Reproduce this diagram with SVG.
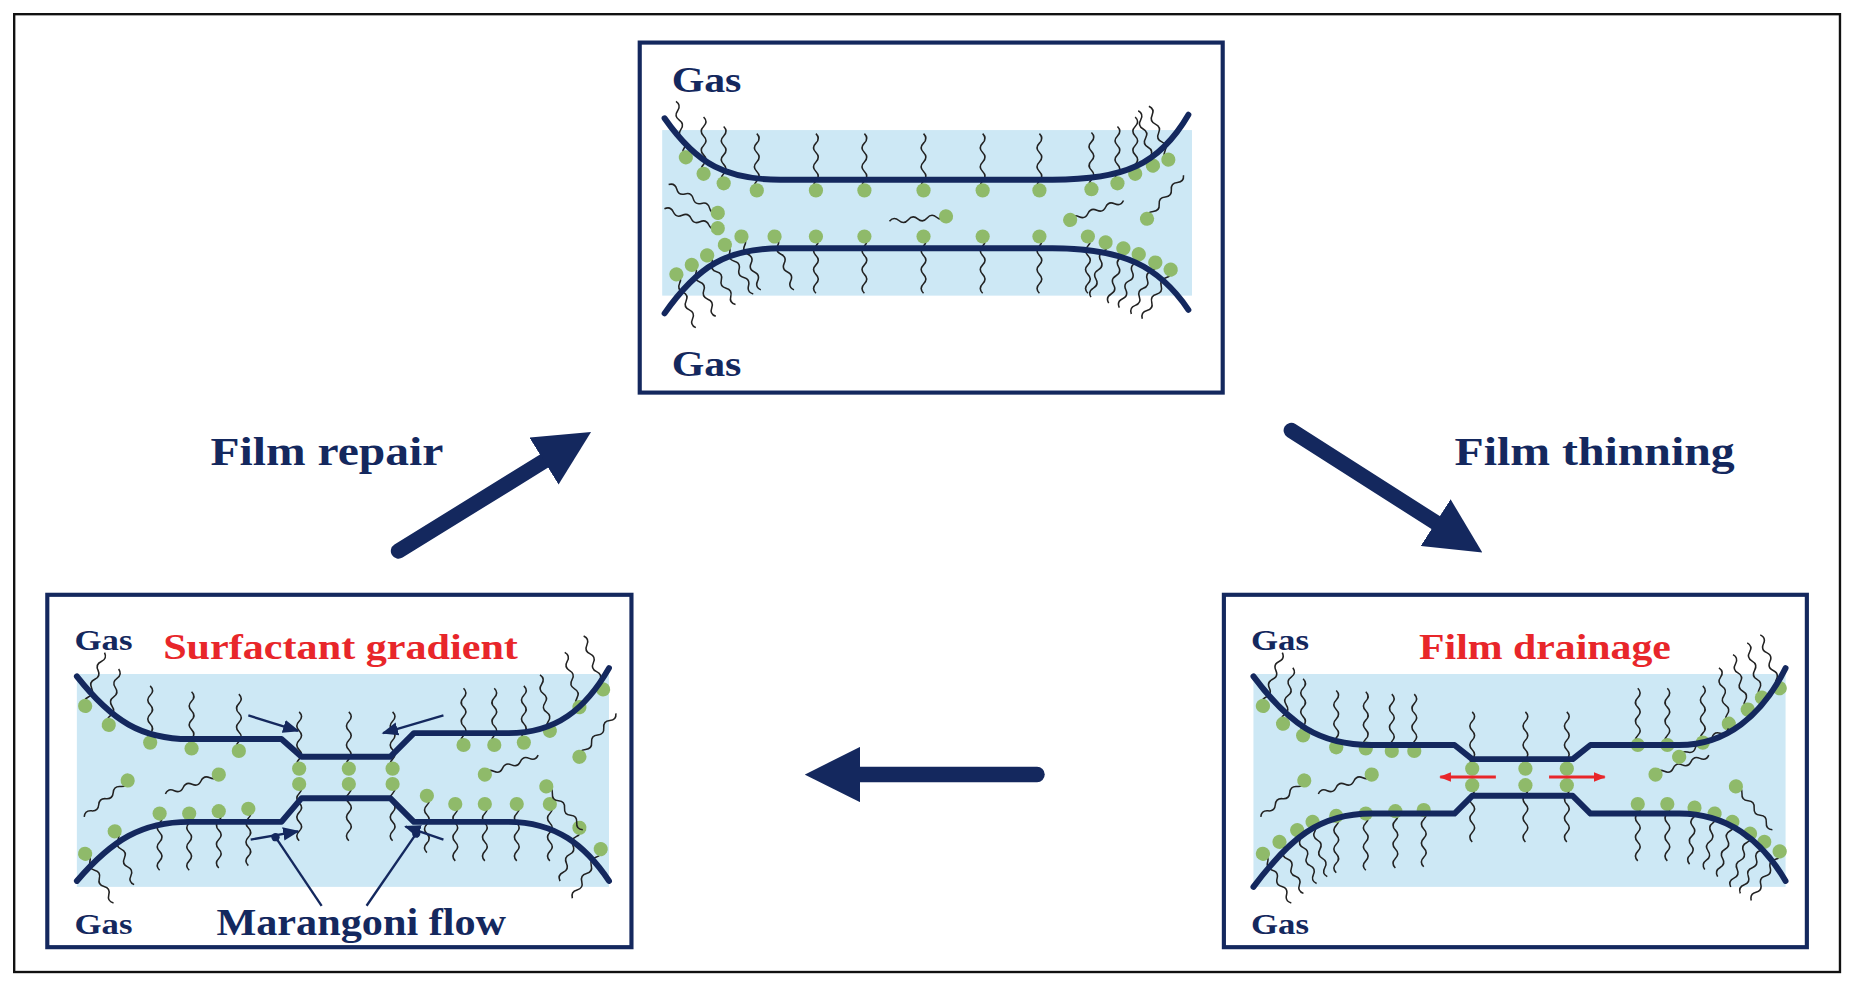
<svg xmlns="http://www.w3.org/2000/svg" xmlns:xlink="http://www.w3.org/1999/xlink" width="1854" height="983" viewBox="0 0 1854 983">
<style>
.box{fill:#fff;stroke:#14285e;stroke-width:3.5}
.film{fill:none;stroke:#14285e;stroke-width:5;stroke-linejoin:round;stroke-linecap:round}
.liq{fill:#cde8f5}
.t{font-family:"Liberation Serif",serif;font-weight:bold;fill:#14285e}
.r{font-family:"Liberation Serif",serif;font-weight:bold;fill:#e8262a}
.big{stroke:#14285e;stroke-width:13;stroke-linecap:round;fill:none}
.thin{stroke:#14285e;stroke-width:2;fill:none}
</style>
<defs>
<g id="m"><path d="M0,0 q-4,-4 0,-8 q4,-4 0,-8 q-4,-4 0,-8 q4,-4 0,-8 q-4,-4 0,-8 q4,-4 0,-8" fill="none" stroke="#222" stroke-width="1.3"/><circle r="6" fill="#8fba6a"/></g>
<marker id="ah" viewBox="0 0 10 10" refX="2" refY="5" markerWidth="3.6" markerHeight="3.6" orient="auto"><path d="M0,0 L10,5 L0,10 z" fill="#14285e"/></marker>
<marker id="sa" viewBox="0 0 10 10" refX="9" refY="5" markerWidth="7" markerHeight="7" orient="auto"><path d="M0,1 L10,5 L0,9 z" fill="#14285e"/></marker>
<marker id="ra" viewBox="0 0 10 10" refX="9" refY="5" markerWidth="4" markerHeight="4" orient="auto"><path d="M0,1 L10,5 L0,9 z" fill="#e8262a"/></marker>
</defs>
<rect width="1854" height="983" fill="#fff"/>
<g transform="scale(1.1825)">
<rect x="12" y="12" width="1544" height="810" fill="none" stroke="#111" stroke-width="2"/>

<g id="top">
<rect class="box" x="541" y="36" width="493" height="296"/>
<rect class="liq" x="560" y="110" width="448" height="140"/>
<text class="t" x="568" y="78" font-size="30" textLength="59" lengthAdjust="spacingAndGlyphs">Gas</text>
<text class="t" x="568" y="318" font-size="30" textLength="59" lengthAdjust="spacingAndGlyphs">Gas</text>
<g>
<use href="#m" x="580" y="133" transform="rotate(-10 580 133)"/><use href="#m" x="595" y="147"/><use href="#m" x="612" y="155"/><use href="#m" x="640" y="161"/><use href="#m" x="690" y="161"/><use href="#m" x="731" y="161"/><use href="#m" x="781" y="161"/><use href="#m" x="831" y="161"/><use href="#m" x="879" y="161"/><use href="#m" x="923" y="160"/><use href="#m" x="945" y="155"/><use href="#m" x="960" y="147"/><use href="#m" x="975" y="140" transform="rotate(-15 975 140)"/><use href="#m" x="988" y="135" transform="rotate(-20 988 135)"/>
</g>
<g>
<use href="#m" transform="translate(627,200) rotate(160)"/><use href="#m" transform="translate(655,200) rotate(160)"/><use href="#m" transform="translate(690,200) rotate(180)"/><use href="#m" transform="translate(731,200) rotate(180)"/><use href="#m" transform="translate(781,200) rotate(180)"/><use href="#m" transform="translate(831,200) rotate(180)"/><use href="#m" transform="translate(879,200) rotate(180)"/><use href="#m" transform="translate(920,200) rotate(180)"/>
<use href="#m" transform="translate(613,207) rotate(150)"/><use href="#m" transform="translate(598,216) rotate(150)"/><use href="#m" transform="translate(585,224) rotate(155)"/><use href="#m" transform="translate(572,232) rotate(160)"/>
<use href="#m" transform="translate(935,205) rotate(195)"/><use href="#m" transform="translate(950,210) rotate(195)"/><use href="#m" transform="translate(963,215) rotate(200)"/><use href="#m" transform="translate(977,222) rotate(205)"/><use href="#m" transform="translate(990,228) rotate(210)"/>
<use href="#m" transform="translate(800,183) rotate(-95)"/><use href="#m" transform="translate(905,186) rotate(70)"/><use href="#m" transform="translate(970,185) rotate(40)"/><use href="#m" transform="translate(607,180) rotate(-60)"/><use href="#m" transform="translate(607,193) rotate(-70)"/>
</g>
<path class="film" d="M562,100 C590,140 615,152 660,152 L890,152 C950,152 980,140 1005,97"/>
<path class="film" d="M562,265 C590,225 615,210 660,210 L890,210 C950,210 980,225 1005,262"/>
</g>

<g id="bl">
<rect class="box" x="40" y="503" width="494" height="298"/>
<rect class="liq" x="65" y="570" width="450" height="180"/>
<text class="t" x="63" y="550" font-size="24" textLength="49" lengthAdjust="spacingAndGlyphs">Gas</text>
<text class="t" x="63" y="790" font-size="24" textLength="49" lengthAdjust="spacingAndGlyphs">Gas</text>
<text class="r" x="138" y="557" font-size="30" textLength="300" lengthAdjust="spacingAndGlyphs">Surfactant gradient</text>
<text class="t" x="183" y="791" font-size="32" textLength="245" lengthAdjust="spacingAndGlyphs">Marangoni flow</text>
<g>
<use href="#m" transform="translate(72,597) rotate(20)"/><use href="#m" transform="translate(92,613) rotate(10)"/><use href="#m" transform="translate(127,628)"/><use href="#m" transform="translate(162,633)"/><use href="#m" transform="translate(202,635)"/>
<use href="#m" x="253" y="650"/><use href="#m" x="295" y="650"/><use href="#m" x="332" y="650"/>
<use href="#m" transform="translate(253,663) rotate(180)"/><use href="#m" transform="translate(295,663) rotate(180)"/><use href="#m" transform="translate(332,663) rotate(180)"/>
<use href="#m" x="392" y="630"/><use href="#m" x="418" y="630"/><use href="#m" x="443" y="628"/><use href="#m" transform="translate(465,618) rotate(-10)"/><use href="#m" transform="translate(490,598) rotate(-15)"/><use href="#m" transform="translate(510,583) rotate(-20)"/>
<use href="#m" transform="translate(135,688) rotate(180)"/><use href="#m" transform="translate(160,688) rotate(180)"/><use href="#m" transform="translate(185,686) rotate(180)"/><use href="#m" transform="translate(210,684) rotate(180)"/><use href="#m" transform="translate(97,703) rotate(160)"/><use href="#m" transform="translate(72,722) rotate(150)"/>
<use href="#m" transform="translate(361,673) rotate(180)"/><use href="#m" transform="translate(385,680) rotate(180)"/><use href="#m" transform="translate(410,680) rotate(180)"/><use href="#m" transform="translate(437,680) rotate(180)"/><use href="#m" transform="translate(465,680) rotate(180)"/><use href="#m" transform="translate(490,700) rotate(200)"/><use href="#m" transform="translate(508,718) rotate(210)"/>
<use href="#m" transform="translate(108,660) rotate(-130)"/><use href="#m" transform="translate(185,655) rotate(-110)"/><use href="#m" transform="translate(410,655) rotate(70)"/><use href="#m" transform="translate(462,665) rotate(140)"/><use href="#m" transform="translate(490,640) rotate(40)"/>
</g>
<path class="film" d="M65,572 C95,610 120,625 160,625 L238,625 L255,640 L330,640 L350,620 L430,620 C470,620 495,600 515,565"/>
<path class="film" d="M65,745 C95,710 120,695 160,695 L238,695 L255,675 L330,675 L350,695 L430,695 C470,695 495,715 515,745"/>
<line class="thin" x1="210" y1="605" x2="252" y2="618" marker-end="url(#sa)"/>
<line class="thin" x1="375" y1="605" x2="324" y2="620" marker-end="url(#sa)"/>
<line class="thin" x1="212" y1="710" x2="252" y2="703" marker-end="url(#sa)"/>
<line class="thin" x1="375" y1="710" x2="343" y2="699" marker-end="url(#sa)"/>
<circle cx="233" cy="708" r="3.5" fill="#14285e"/><circle cx="352" cy="705" r="3.5" fill="#14285e"/>
<line class="thin" x1="233" y1="708" x2="272" y2="766"/><line class="thin" x1="352" y1="705" x2="310" y2="766"/>
</g>

<g id="br">
<rect class="box" x="1035" y="503" width="493" height="298"/>
<rect class="liq" x="1060" y="570" width="450" height="180"/>
<text class="t" x="1058" y="550" font-size="24" textLength="49" lengthAdjust="spacingAndGlyphs">Gas</text>
<text class="t" x="1058" y="790" font-size="24" textLength="49" lengthAdjust="spacingAndGlyphs">Gas</text>
<text class="r" x="1200" y="557" font-size="30" textLength="213" lengthAdjust="spacingAndGlyphs">Film drainage</text>
<g>
<use href="#m" transform="translate(1068,597) rotate(20)"/><use href="#m" transform="translate(1085,612) rotate(10)"/><use href="#m" x="1102" y="622"/><use href="#m" x="1130" y="632"/><use href="#m" x="1155" y="633"/><use href="#m" x="1177" y="635"/><use href="#m" x="1196" y="635"/>
<use href="#m" x="1245" y="650"/><use href="#m" x="1290" y="650"/><use href="#m" x="1325" y="650"/>
<use href="#m" transform="translate(1245,664) rotate(180)"/><use href="#m" transform="translate(1290,664) rotate(180)"/><use href="#m" transform="translate(1325,664) rotate(180)"/>
<use href="#m" x="1385" y="630"/><use href="#m" x="1410" y="630"/><use href="#m" x="1440" y="628"/><use href="#m" transform="translate(1462,612) rotate(-10)"/><use href="#m" transform="translate(1478,600) rotate(-15)"/><use href="#m" transform="translate(1490,590) rotate(-15)"/><use href="#m" transform="translate(1505,582) rotate(-20)"/>
<use href="#m" transform="translate(1068,722) rotate(150)"/><use href="#m" transform="translate(1082,712) rotate(155)"/><use href="#m" transform="translate(1097,702) rotate(160)"/><use href="#m" transform="translate(1110,695) rotate(165)"/><use href="#m" transform="translate(1130,690) rotate(180)"/><use href="#m" transform="translate(1155,688) rotate(180)"/><use href="#m" transform="translate(1180,686) rotate(180)"/><use href="#m" transform="translate(1204,685) rotate(180)"/>
<use href="#m" transform="translate(1385,680) rotate(180)"/><use href="#m" transform="translate(1410,680) rotate(180)"/><use href="#m" transform="translate(1433,683) rotate(185)"/><use href="#m" transform="translate(1450,688) rotate(190)"/><use href="#m" transform="translate(1465,695) rotate(195)"/><use href="#m" transform="translate(1480,705) rotate(200)"/><use href="#m" transform="translate(1492,712) rotate(205)"/><use href="#m" transform="translate(1505,720) rotate(210)"/>
<use href="#m" transform="translate(1103,660) rotate(-130)"/><use href="#m" transform="translate(1160,655) rotate(-110)"/><use href="#m" transform="translate(1400,655) rotate(70)"/><use href="#m" transform="translate(1420,640) rotate(60)"/><use href="#m" transform="translate(1468,665) rotate(140)"/>
</g>
<path class="film" d="M1060,572 C1090,612 1115,630 1160,630 L1230,630 L1245,642 L1330,642 L1345,630 L1420,630 C1460,630 1490,605 1510,565"/>
<path class="film" d="M1060,750 C1090,710 1115,688 1160,688 L1230,688 L1245,673 L1330,673 L1345,688 L1420,688 C1460,688 1490,710 1510,745"/>
<line x1="1265" y1="657" x2="1218" y2="657" stroke="#e8262a" stroke-width="2.5" marker-end="url(#ra)"/>
<line x1="1310" y1="657" x2="1357" y2="657" stroke="#e8262a" stroke-width="2.5" marker-end="url(#ra)"/>
</g>

<g id="connectors">
<line class="big" x1="337" y1="466" x2="468" y2="385" marker-end="url(#ah)"/>
<line class="big" x1="1092" y1="364" x2="1222" y2="447" marker-end="url(#ah)"/>
<line class="big" x1="877" y1="655" x2="718" y2="655" marker-end="url(#ah)"/>
</g>
<text class="t" x="178" y="393" font-size="34" textLength="197" lengthAdjust="spacingAndGlyphs">Film repair</text>
<text class="t" x="1230" y="393" font-size="34" textLength="237" lengthAdjust="spacingAndGlyphs">Film thinning</text>
</g>
</svg>
